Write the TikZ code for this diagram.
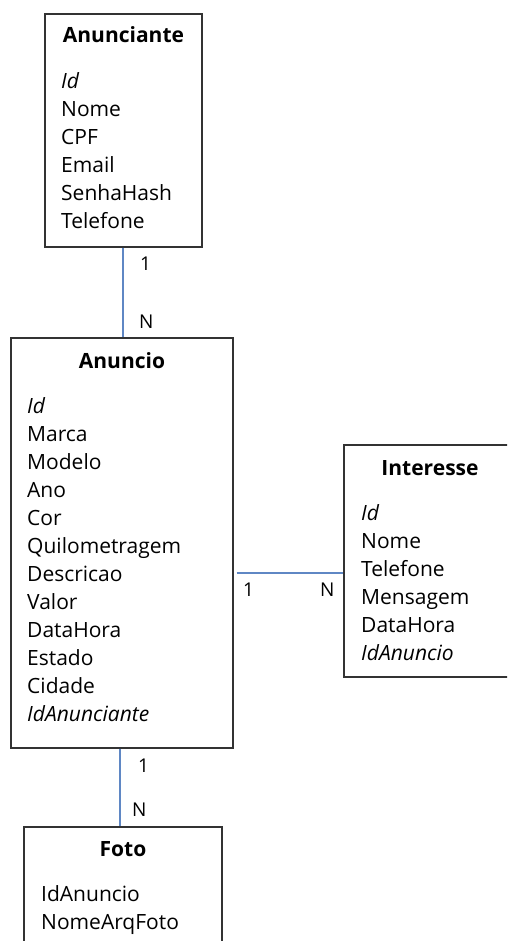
\documentclass[tikz,border=0pt]{standalone}
\usepackage{fontspec}
\setmainfont{Open Sans}
\usetikzlibrary{positioning,calc}
\definecolor{boxgray}{HTML}{333333}
\definecolor{relblue}{HTML}{5F87C4}

\begin{document}
\begin{tikzpicture}[x=1pt,y=-1pt]
			\tikzset{
				entity/.style={draw=boxgray,line width=1.2pt,inner sep=0pt},
				title/.style={font=\fontsize{21}{28}\selectfont\bfseries,anchor=base,inner sep=0pt},
				% base of a multi-line node = baseline of its last line
				fields/.style={font=\fontsize{21}{28}\selectfont,align=left,anchor=base west,inner sep=0pt},
				card/.style={font=\fontsize{19}{22}\selectfont,anchor=base west,inner sep=0pt},
				rel/.style={draw=relblue,line width=1.3pt},
			}
			\clip (0,0) rectangle (507,941);
			% entities
			\node[entity,minimum width=157pt,minimum height=233pt] (anunciante) at (123.5,130.5) {};
			\node[title] (anuncianteT) at (anunciante.north |- 0,43) {Anunciante};
			\node[fields] (anuncianteF) at (61,229) {\textit{Id}\\Nome\\CPF\\Email\\SenhaHash\\Telefone};
			%
			\node[entity,minimum width=222pt,minimum height=410pt] (anuncio) at (122,543) {};
			\node[title] (anuncioT) at (anuncio.north |- 0,368) {Anuncio};
			\node[fields] (anuncioF) at (27,721) {\textit{Id}\\Marca\\Modelo\\Ano\\Cor\\Quilometragem\\Descricao\\Valor\\DataHora\\Estado\\Cidade\\\textit{IdAnunciante}};
			%
			\node[entity,minimum width=172pt,minimum height=232pt] (interesse) at (430,561) {};
			\node[title] (interesseT) at (interesse.north |- 0,475) {Interesse};
			\node[fields] (interesseF) at (361,660) {\textit{Id}\\Nome\\Telefone\\Mensagem\\DataHora\\\textit{IdAnuncio}};
			%
			\node[entity,minimum width=198pt,minimum height=133pt] (foto) at (123,893.5) {};
			\node[title] (fotoT) at (foto.north |- 0,856) {Foto};
			\node[fields] (fotoF) at (41,929) {IdAnuncio\\NomeArqFoto};
			% relations
			\coordinate (r1) at (123,0);
			\coordinate (r2) at (0,573);
			\coordinate (r3) at (120,0);
			\draw[rel] (anunciante.south -| r1) -- (anuncio.north -| r1);
			\draw[rel] ($(anuncio.east |- r2)+(3,0)$) -- (interesse.west |- r2);
			\draw[rel] (anuncio.south -| r3) -- (foto.north -| r3);
			% cardinalities
			\node[card] (c1a) at (140,270) {1};
			\node[card] (cNa) at (139,328) {N};
			\node[card] (c1b) at (243,596) {1};
			\node[card] (cNb) at (320,596) {N};
			\node[card] (c1c) at (138,772) {1};
			\node[card] (cNc) at (132,816) {N};
		\end{tikzpicture}
\end{document}
